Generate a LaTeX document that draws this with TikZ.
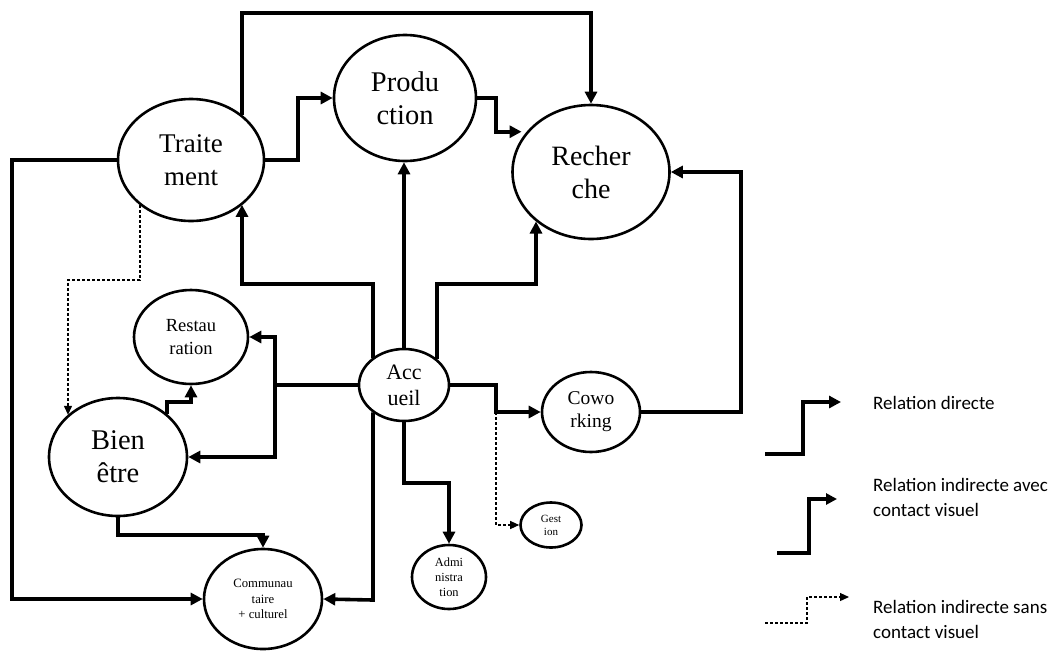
\documentclass[tikz,border=0pt]{standalone}
\usepackage{fontspec}
\setmainfont{Liberation Serif}
\newfontfamily\calfont{Carlito}
\usetikzlibrary{arrows.meta,shapes.geometric}
\tikzset{
  ell/.style={draw, ellipse, line width=2.6pt, inner sep=0pt, align=center, fill=white},
  conn/.style={line width=3.6pt, -{Triangle[length=12pt,width=12pt]}},
  dsh/.style={line width=1.2pt, dash pattern=on 3pt off 2pt, -{Triangle[length=9pt,width=8pt]}},
  legtext/.style={anchor=west, align=left, inner sep=0pt, font=\calfont\fontsize{19}{25}\selectfont}
}
\begin{document}
\begin{tikzpicture}[x=1pt,y=-1pt]
\useasboundingbox[fill=white] (0,0) rectangle (1056,651);
% nodes
\node[ell, minimum width=146pt, minimum height=122pt, font=\fontsize{27}{33}\selectfont] (trait) at (191,160) {Traite\\ment};
\node[ell, minimum width=142pt, minimum height=126pt, font=\fontsize{28.5}{33}\selectfont] (prod) at (405,98) {Produ\\ction};
\node[ell, minimum width=157pt, minimum height=134pt, font=\fontsize{28}{33}\selectfont] (rech) at (591,172) {Recher\\che};
\node[ell, minimum width=114pt, minimum height=94pt, font=\fontsize{18.5}{23}\selectfont] (rest) at (191,337) {Restau\\ration};
\node[ell, minimum width=138pt, minimum height=118pt, font=\fontsize{28.5}{33}\selectfont] (bien) at (118,457) {Bien\\être};
\node[ell, minimum width=118pt, minimum height=100pt, font=\fontsize{12.7}{15.5}\selectfont] (comm) at (263,599) {Communau\\taire\\+ culturel};
\node[ell, minimum width=90pt, minimum height=72pt, font=\fontsize{22}{26}\selectfont] (acc) at (404,385) {Acc\\ueil};
\node[ell, minimum width=98pt, minimum height=80pt, font=\fontsize{19.5}{23}\selectfont] (cow) at (591,412) {Cowo\\rking};
\node[ell, minimum width=61pt, minimum height=45pt, font=\fontsize{11}{13}\selectfont] (gest) at (551,525) {Gest\\ion};
\node[ell, minimum width=74pt, minimum height=64pt, font=\fontsize{12.4}{15}\selectfont] (adm) at (449,577) {Admi\\nistra\\tion};
% junctions
\coordinate (j1) at (275,385);
\coordinate (j2) at (496,412);
% connectors
\draw[conn] (trait.41 -| 242,0) -- (242,13) -| (rech.north);
\draw[conn] (trait.east) -- (298,160) |- (prod.west);
\draw[conn, shorten >=5pt] (prod.east) -- (496,98) |- (rech.148);
\draw[conn] (trait.west) -- (12,160) |- (comm.west);
\draw[dsh] (trait.221 -| 140,0) -- (140,280) -- (68,280) -- (bien.140 -| 68,0);
\draw[conn] (acc.139 -| 373,0) -- (373,284) -- (242,284) -- (trait.-41 -| 242,0);
\draw[conn] (acc.north) -- (acc.north |- prod.south);
\draw[conn] (acc.38 -| 437,0) -- (437,284) -- (536,284) -- (rech.222 -| 536,0);
\draw[conn] (acc.west) -- (j1) |- (rest.east);
\draw[conn] (j1) |- (bien.east);
\draw[conn] (bien.41 -| 167,0) -- (167,402) -- (191,402) -- (rest.south);
\draw[conn] (bien.south) -- (118,535) -| (comm.north);
\draw[conn] (acc.east) -- (496,385) |- (cow.west);
\draw[dsh] (j2) |- (gest.west);
\draw[conn] (acc.south) -- (404,483) -| (adm.north);
\draw[conn] (cow.east) -- (741,412) |- (rech.east);
\draw[conn] (acc.221 -| 373,0) -- (373,600) -- (comm.east);
% legend
\coordinate (la) at (765,454);
\coordinate (lb) at (777,553);
\coordinate (lc) at (765,623);
\draw[line width=4.5pt, -{Triangle[length=12pt,width=12pt]}] (la) -- (803,454) -- (803,402) -- (841,402);
\draw[line width=3.2pt, -{Triangle[length=11pt,width=11pt]}] (lb) -- (809,553) -- (809,499) -- (837,499);
\draw[dsh] (lc) -- (807,623) -- (807,597) -- (849,597);
\node[legtext] (t1) at (873,403) {Relation directe};
\node[legtext] (t2) at (873,497) {Relation indirecte avec\\contact visuel};
\node[legtext] (t3) at (873,619) {Relation indirecte sans\\contact visuel};
\end{tikzpicture}
\end{document}
